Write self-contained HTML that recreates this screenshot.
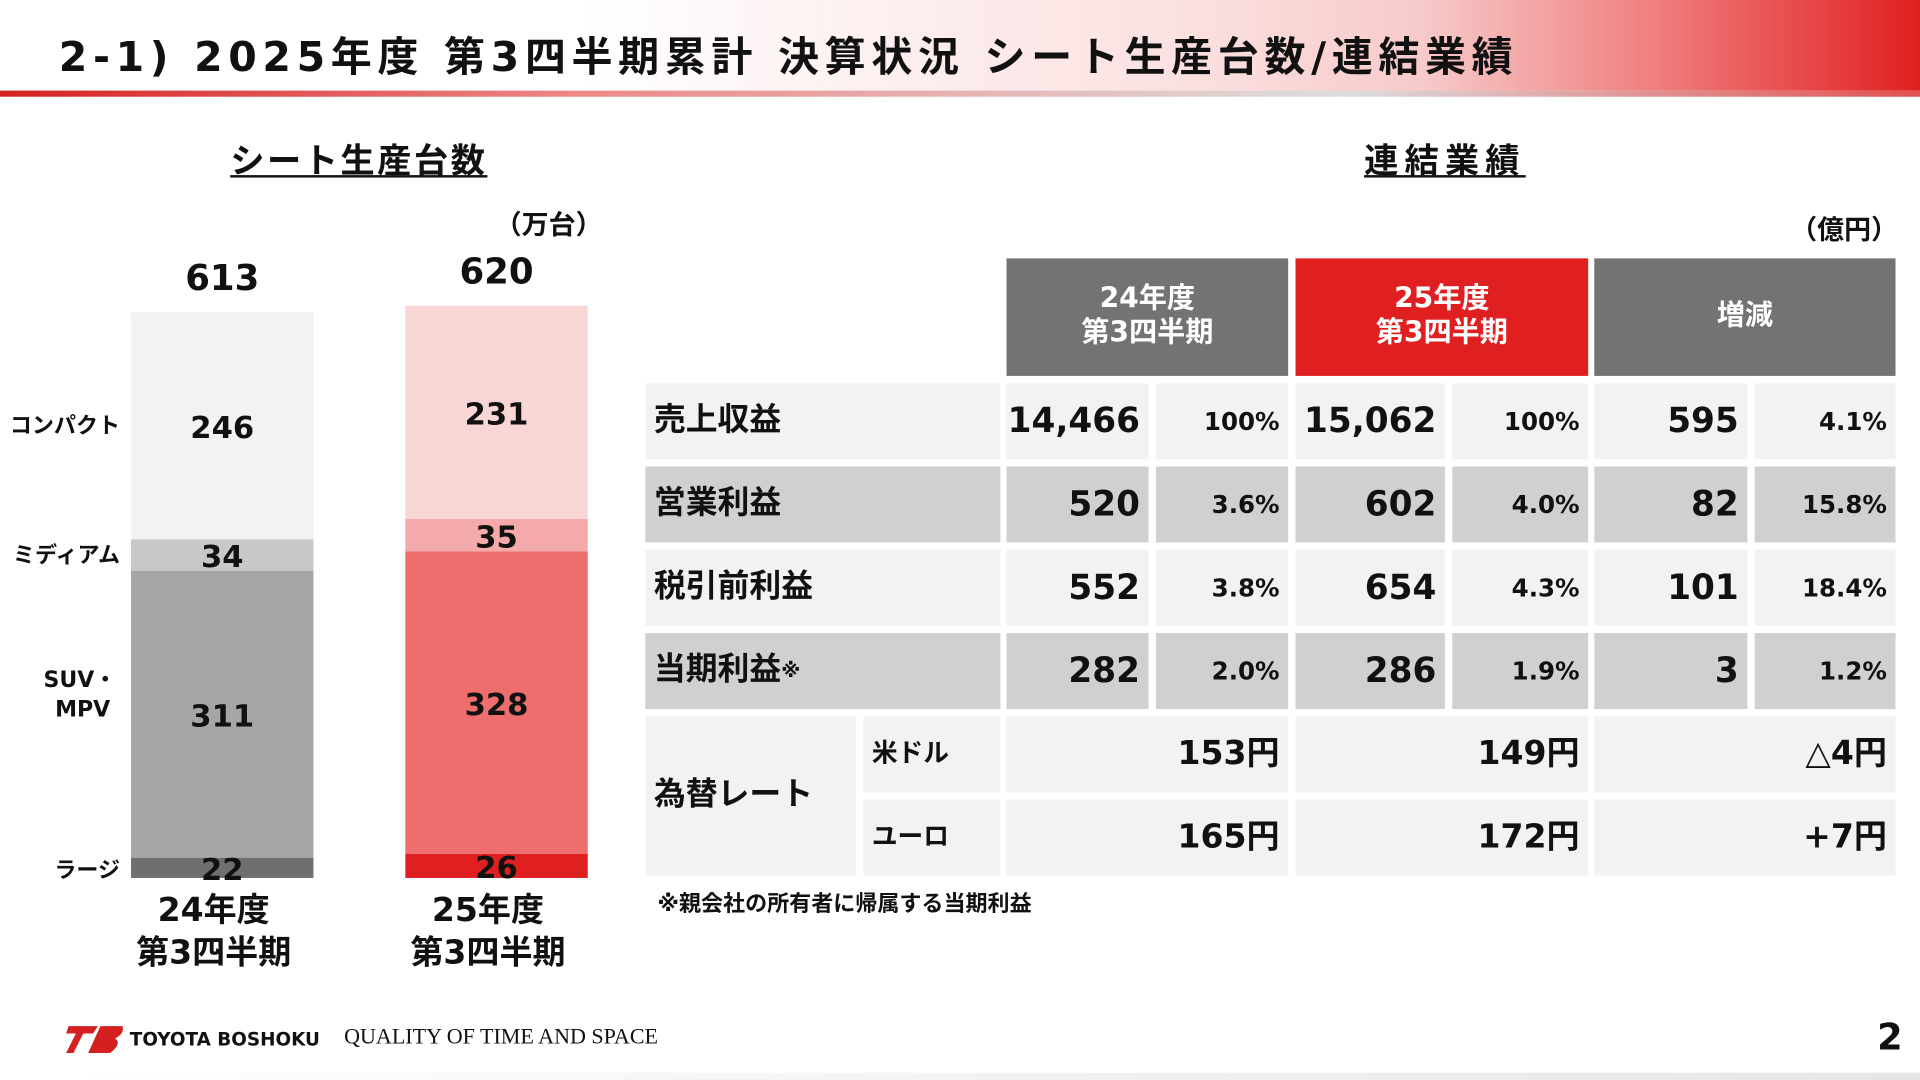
<!DOCTYPE html>
<html><head><meta charset="utf-8"><style>
html,body{margin:0;padding:0;width:1920px;height:1080px;overflow:hidden;background:#fff}
#s{position:absolute;left:0;top:0;width:1568px;height:882px;transform:scale(1.22449);transform-origin:0 0;font-family:"DejaVu Sans","Noto Sans CJK JP",sans-serif;font-weight:bold;color:#111}
.a{position:absolute}
.c{position:absolute;display:flex;align-items:center;box-sizing:border-box}
</style></head><body><div id="s">
<div class="a" style="left:0;top:0;width:1568px;height:74px;background:linear-gradient(90deg,#fff 0%,#fff 30%,#fbe0e0 62%,#f7caca 74%,#ef8080 86%,#e02020 100%)"></div>
<div class="a" style="left:0;top:74px;width:1568px;height:5px;background:linear-gradient(90deg,#d42020 0%,#e88 30%,#ddd 70%,#e35050 100%)"></div>
<div class="a" style="left:48px;top:19px;font-size:33.5px;letter-spacing:4.6px;white-space:nowrap">2-1) 2025年度 第3四半期累計 決算状況 シート生産台数/連結業績</div>

<div class="a" style="left:188px;top:110px;font-size:28px;letter-spacing:2px;text-decoration:underline">シート生産台数</div>
<div class="a" style="left:404px;top:166px;font-size:22px">（万台）</div>
<svg class="a" id="chart" style="left:0;top:190px" width="520" height="620"></svg>

<div class="a" style="left:1114px;top:110px;font-size:28px;letter-spacing:5px;text-decoration:underline">連結業績</div>
<div class="a" style="left:1462px;top:170px;font-size:22px">（億円）</div>
<div id="tbl"></div>
<div class="a" style="left:537px;top:724px;font-size:18px">※親会社の所有者に帰属する当期利益</div>

<svg class="a" style="left:54px;top:836px" width="48" height="26"><path d="M2 2 L26 2 L22 8 L14 8 L6 24 L0 24 L8 8 L0 8Z" fill="#d42020"/><path d="M28 2 L46 2 Q48 8 40 12 Q46 16 36 24 L18 24Z" fill="#d42020"/></svg>
<div class="a" style="left:106px;top:840px;font-size:15px">TOYOTA BOSHOKU</div>
<div class="a" style="left:281px;top:836px;font-size:18px;font-weight:normal;font-family:'Liberation Serif',serif">QUALITY OF TIME AND SPACE</div>
<div class="a" style="left:1533px;top:830px;font-size:30px">2</div>
<div class="a" style="left:50px;top:876px;width:1518px;height:6px;background:linear-gradient(90deg,#fff,#e6e6e6)"></div>
</div>
<script>
const segCats=["ラージ","SUV・MPV","ミディアム","コンパクト"];
const fy24=[22,311,34,246];
const fy25=[26,328,35,231];
const totals=[613,620];
const periods=["24年度|第3四半期","25年度|第3四半期"];
const NS="http://www.w3.org/2000/svg";
const svg=document.getElementById('chart');
const baseY=527, k=462/613;
function y(v){return baseY-v*k;}
const cols=[["#6f6f6f","#a6a6a6","#c8c8c8","#f2f2f2"],["#e02020","#ee6e6e","#f4aaaa","#f9d6d6"]];
const xs=[107,331], bw=149;
function t(x,yy,s,size,anchor){const e=document.createElementNS(NS,'text');e.setAttribute('x',x);e.setAttribute('y',yy);e.setAttribute('font-size',size);e.setAttribute('font-weight','bold');e.setAttribute('text-anchor',anchor||'middle');e.setAttribute('fill','#111');e.textContent=s;svg.appendChild(e);return e;}
[fy24,fy25].forEach((ser,i)=>{let cum=0;ser.forEach((v,j)=>{const r=document.createElementNS(NS,'rect');


r.setAttribute('x',xs[i]);r.setAttribute('y',y(cum+v));r.setAttribute('width',bw);r.setAttribute('height',v*k);r.setAttribute('fill',cols[i][j]);svg.appendChild(r);
const lb=t(xs[i]+bw/2,y(cum+v/2)+10,String(v),25);


cum+=v;});
const tl=t(xs[i]+bw/2,y(totals[i])-18,String(totals[i]),29);


const p=periods[i].split('|');
const l1=t(xs[i]+bw/2-7,baseY+35,p[0],27);
const l2=t(xs[i]+bw/2-7,baseY+70,p[1],27);
});
let cum=0;fy24.forEach((v,j)=>{const mid=y(cum+v/2);cum+=v;
if(segCats[j]==="SUV・MPV"){const a=t(95,mid-22,"SUV・",18,'end');const b=t(90,mid+2,"MPV",18,'end');}
else{const e=t(98,j==0?mid+8:mid+6,segCats[j],18,'end');}});

const T=document.getElementById('tbl');
function cell(x,yy,w,h,bg,txt,size,just,name,color){const d=document.createElement('div');d.className='c';d.style.cssText=`left:${x}px;top:${yy}px;width:${w}px;height:${h}px;background:${bg};font-size:${size}px;justify-content:${just};padding:0 7px;color:${color||'#111'};text-align:center;line-height:1.2`;d.innerHTML=txt;


T.appendChild(d);}
cell(822,211,230,96,'#737373','24年度<br>第3四半期',23,'center','header-fy24','#fff');
cell(1058,211,239,96,'#e02020','25年度<br>第3四半期',23,'center','header-fy25','#fff');
cell(1302,211,246,96,'#737373','増減',23,'center','header-change','#fff');
const rows=[["売上収益","14,466","100%","15,062","100%","595","4.1%"],["営業利益","520","3.6%","602","4.0%","82","15.8%"],["税引前利益","552","3.8%","654","4.3%","101","18.4%"],["当期利益<sup style='font-size:16px'>※</sup>","282","2.0%","286","1.9%","3","1.2%"]];
const cx=[[822,116],[944,108],[1058,122],[1186,111],[1302,125],[1433,115]];
rows.forEach((r,i)=>{const yy=313+i*68,bg=i%2?'#d0d0d0':'#f2f2f2';
cell(527,yy,290,62,bg,r[0],26,'flex-start','row-label');
cx.forEach((c,j)=>cell(c[0],yy,c[1],62,bg,r[j+1],j%2?20:28,'flex-end',j%2?'ratio-cell':'value-cell'));});
cell(527,585,172,130,'#f2f2f2','為替レート',26,'flex-start','fx-label');
[["米ドル","153円","149円","△4円"],["ユーロ","165円","172円","+7円"]].forEach((r,i)=>{const yy=585+i*68;
cell(705,yy,112,62,'#f2f2f2',r[0],21,'flex-start','fx-currency');
cell(822,yy,230,62,'#f2f2f2',r[1],27,'flex-end','fx-value');
cell(1058,yy,239,62,'#f2f2f2',r[2],27,'flex-end','fx-value');
cell(1302,yy,246,62,'#f2f2f2',r[3],27,'flex-end','fx-change');});
</script>
</body></html>
